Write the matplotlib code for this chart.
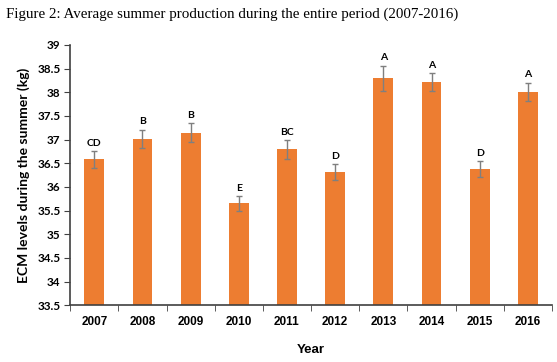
import numpy as np
import matplotlib.pyplot as plt

# data
years = ['2007', '2008', '2009', '2010', '2011', '2012', '2013', '2014', '2015', '2016']
ecm = [36.58, 37.02, 37.14, 35.65, 36.79, 36.31, 38.29, 38.21, 36.38, 38.01]
err = [0.18, 0.19, 0.20, 0.15, 0.20, 0.17, 0.27, 0.19, 0.17, 0.19]
groups = ['CD', 'B', 'B', 'E', 'BC', 'D', 'A', 'A', 'D', 'A']

fig = plt.figure(figsize=(5.57, 3.62), dpi=100)
ax = fig.add_axes([0.126, 0.157, 0.865, 0.719])

x = np.arange(len(years))
ax.bar(x, ecm, width=0.41, color='#ED7D31', zorder=2)
ax.errorbar(x, ecm, yerr=err, fmt='none', ecolor='#7f7f7f', elinewidth=1,
            capsize=2.5, capthick=1, zorder=3)

for xi, v, e, g in zip(x, ecm, err, groups):
    ax.text(xi, v + e + 0.07, g, ha='center', va='bottom', fontsize=7.5,
            fontweight='bold', family='Lato')

ax.set_ylim(33.5, 39)
ax.set_xlim(-0.5, len(years) - 0.5)
ax.set_yticks(np.arange(33.5, 39.01, 0.5))
ax.set_yticklabels([f'{t:g}' for t in np.arange(33.5, 39.01, 0.5)],
                   fontsize=8.5, fontweight='bold', family='Lato')
ax.set_xticks(x)
ax.set_xticklabels(years, fontsize=8.5, fontweight='bold', family='Liberation Sans')
ax.set_xticks(np.arange(-0.5, len(years), 1), minor=True)
ax.tick_params(axis='x', which='major', length=0, pad=8)
ax.tick_params(axis='x', which='minor', length=4, color='#404040')
ax.tick_params(axis='y', length=4, color='#404040', pad=3)

for s in ['top', 'right']:
    ax.spines[s].set_visible(False)
for s in ['left', 'bottom']:
    ax.spines[s].set_color('#404040')
    ax.spines[s].set_linewidth(1.2)

ax.set_ylabel('ECM levels during the summer (kg)', fontsize=10, fontweight='bold',
              family='Lato', labelpad=5)
ax.set_xlabel('Year', fontsize=9.5, fontweight='bold', family='Liberation Sans', labelpad=11)

fig.text(0.011, 0.96, 'Figure 2: Average summer production during the entire period (2007-2016)',
         fontsize=10.8, family='Liberation Serif', ha='left', va='center')

fig.savefig('out.png', dpi=100)
